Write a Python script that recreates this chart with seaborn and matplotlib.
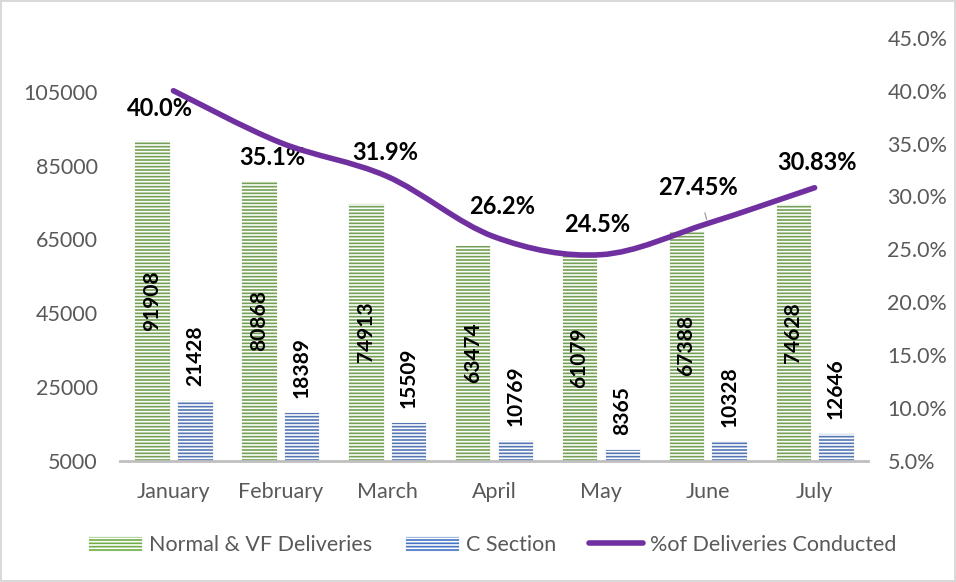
import numpy as np
import pandas as pd
import matplotlib
matplotlib.use("Agg")
import matplotlib.pyplot as plt
import seaborn as sns
from matplotlib.path import Path
from matplotlib.patches import PathPatch, Patch
from matplotlib.lines import Line2D

# ---- data ----
months = ["January", "February", "March", "April", "May", "June", "July"]
normal_vf = [91908, 80868, 74913, 63474, 61079, 67388, 74628]
c_section = [21428, 18389, 15509, 10769, 8365, 10328, 12646]
pct_conducted = [40.0, 35.1, 31.9, 26.2, 24.5, 27.45, 30.83]
pct_labels = ["40.0%", "35.1%", "31.9%", "26.2%", "24.5%", "27.45%", "30.83%"]

left_ticks = [5000, 25000, 45000, 65000, 85000, 105000]
right_ticks = [5, 10, 15, 20, 25, 30, 35, 40, 45]

# ---- style ----
GREEN = "#70AD47"
BLUE = "#4472C4"
PURPLE = "#7030A0"
GRAY_TXT = "#595959"
TICK_FS = 15.5
# label offsets (points, label centre relative to point)
pct_offsets = [(-10, -13), (-6, -11), (-1, 17), (6, 22), (-3, 22), (-7, 26), (2, 18)]

sns.set_theme(style="white")
plt.rcParams["font.family"] = ["Lato", "DejaVu Sans"]
plt.rcParams["hatch.linewidth"] = 1.2

df = pd.DataFrame({
    "month": months * 2,
    "value": normal_vf + c_section,
    "type": ["Normal & VF Deliveries"] * len(months) + ["C Section"] * len(months),
})

fig = plt.figure(figsize=(9.56, 5.82), dpi=100)
fig.patch.set_edgecolor("#D9D9D9")
fig.patch.set_linewidth(1.5)
ax = fig.add_axes([0.1255, 0.208, 0.7825, 0.727])

sns.barplot(data=df, x="month", y="value", hue="type",
            palette=[GREEN, BLUE], gap=0.17, ax=ax, legend=False,
            linewidth=0.6, edgecolor="white")
for bar in ax.patches:
    bar.set_hatch("-----")

ax.set_ylim(5000, 119600)
ax.set_xlim(-0.5, len(months) - 0.5)
ax.set_yticks(left_ticks)
ax.set_yticklabels([str(t) for t in left_ticks])
ax.set_xlabel("")
ax.set_ylabel("")
ax.tick_params(axis="both", length=0, labelsize=TICK_FS, labelcolor=GRAY_TXT)
ax.tick_params(axis="x", pad=15)
ax.tick_params(axis="y", pad=16)
for s in ["top", "right", "left"]:
    ax.spines[s].set_visible(False)
ax.spines["bottom"].set_color("#BFBFBF")
ax.spines["bottom"].set_linewidth(2)

# data labels on bars
green_bars = ax.containers[0]
blue_bars = ax.containers[1]
for bar, v in zip(green_bars, normal_vf):
    x = bar.get_x() + bar.get_width() / 2
    ax.text(x, 5000 + (v - 5000) / 2, str(v), rotation=90, ha="center", va="center",
            fontsize=15, fontweight="bold", color="black")
for bar, v in zip(blue_bars, c_section):
    x = bar.get_x() + bar.get_width() / 2
    ax.annotate(str(v), (x, v), xytext=(0, 10), textcoords="offset points",
                rotation=90, ha="center", va="bottom",
                fontsize=15, fontweight="bold", color="black")

# smoothed percentage line on secondary axis
ax2 = ax.twinx()
ax2.set_ylim(5, 45)
ax2.set_yticks(right_ticks)
ax2.set_yticklabels([f"{t:.1f}%" for t in right_ticks])
ax2.tick_params(axis="y", length=0, labelsize=TICK_FS, labelcolor=GRAY_TXT, pad=14)
for s in ax2.spines.values():
    s.set_visible(False)

xs = np.arange(len(months), dtype=float)
ys = np.array(pct_conducted, dtype=float)
pts = np.column_stack([xs, ys])
verts = [pts[0]]
codes = [Path.MOVETO]
n = len(pts)
for i in range(n - 1):
    p0 = pts[i - 1] if i > 0 else pts[i]
    p1 = pts[i]
    p2 = pts[i + 1]
    p3 = pts[i + 2] if i + 2 < n else pts[i + 1]
    c1 = p1 + (p2 - p0) / 6
    c2 = p2 - (p3 - p1) / 6
    verts += [c1, c2, p2]
    codes += [Path.CURVE4] * 3
ax2.add_patch(PathPatch(Path(verts, codes), facecolor="none", edgecolor=PURPLE,
                        linewidth=4, capstyle="round", zorder=5))

for i, (y, lab, off) in enumerate(zip(pct_conducted, pct_labels, pct_offsets)):
    kw = dict(textcoords="offset points", ha="center", va="center",
              fontsize=17, fontweight="bold", color="black")
    if i == 5:
        kw["arrowprops"] = dict(arrowstyle="-", color="#A6A6A6", lw=1,
                                shrinkA=8, shrinkB=3)
    ax2.annotate(lab, (i, y), xytext=off, **kw)

handles = [
    Patch(facecolor=GREEN, edgecolor="white", hatch="-----", linewidth=0.6),
    Patch(facecolor=BLUE, edgecolor="white", hatch="-----", linewidth=0.6),
    Line2D([0], [0], color=PURPLE, linewidth=4, solid_capstyle="round"),
]
fig.legend(handles, ["Normal & VF Deliveries", "C Section", "%of Deliveries Conducted"],
           loc="center", bbox_to_anchor=(0.515, 0.064), ncol=3, frameon=False,
           fontsize=TICK_FS, labelcolor=GRAY_TXT, handlelength=2.5, handleheight=0.7,
           handletextpad=0.35, columnspacing=1.5)

fig.savefig("out.png", dpi=100, edgecolor=fig.get_edgecolor())
